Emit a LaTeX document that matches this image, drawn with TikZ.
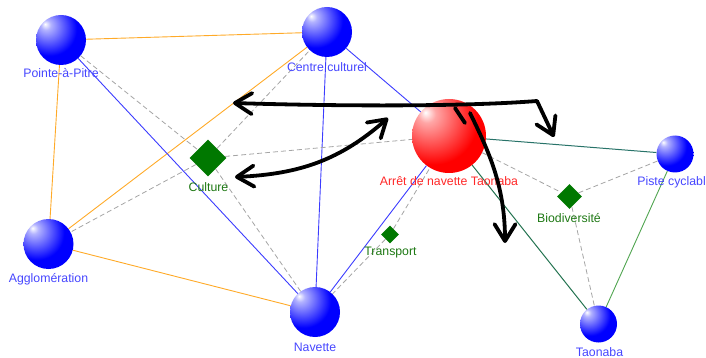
\documentclass[tikz,border=0pt]{standalone}
\usepackage{fontspec}
\setmainfont{Liberation Sans}
\usetikzlibrary{shapes.geometric,arrows.meta}

% sphere shadings: white highlight up-left, flat colour towards the rim
\pgfdeclareradialshading{bluesphere}{\pgfpoint{-16bp}{16bp}}{color(0bp)=(white); color(5bp)=(white!70!blue); color(27bp)=(blue); color(90bp)=(blue)}
\pgfdeclareradialshading{redsphere}{\pgfpoint{-16bp}{16bp}}{color(0bp)=(white); color(6bp)=(white!65!red); color(30bp)=(red); color(90bp)=(red)}

\definecolor{lblblue}{RGB}{70,70,255}
\definecolor{lblgreen}{RGB}{30,120,20}
\definecolor{lblred}{RGB}{255,40,40}
\definecolor{edgeorange}{RGB}{255,170,40}
\definecolor{edgeblue}{RGB}{60,60,255}
\definecolor{edgegray}{RGB}{165,165,165}
\definecolor{edgeteal}{RGB}{40,115,105}
\definecolor{edgedkgreen}{RGB}{35,115,80}
\definecolor{edgegreen}{RGB}{80,165,80}
\definecolor{diamondgreen}{RGB}{0,120,0}

\tikzset{
  bluebo/.style={circle, inner sep=0pt, minimum size=#1, shading=bluesphere},
  redbo/.style={circle, inner sep=0pt, minimum size=#1, shading=redsphere},
  topic/.style={diamond, inner sep=0pt, minimum size=#1, fill=diamondgreen},
  lbl/.style={font=\fontsize{12.3}{14}\selectfont, inner sep=0pt},
  placelbl/.style={lbl, text=lblblue},
  topiclbl/.style={lbl, text=lblgreen},
  orangeedge/.style={draw=edgeorange, line width=0.9pt},
  blueedge/.style={draw=edgeblue, line width=0.9pt},
  grayedge/.style={draw=edgegray, line width=0.8pt, dash pattern=on 5pt off 3pt},
  tealedge/.style={draw=edgeteal, line width=1pt},
  dkgreenedge/.style={draw=edgedkgreen, line width=1pt},
  greenedge/.style={draw=edgegreen, line width=0.9pt},
  hand/.style={draw=black, line width=3.8pt, line cap=round, line join=round},
  chev/.tip={Straight Barb[length=17pt, width=21pt, line cap=round, line join=round]},
}

\begin{document}
\begin{tikzpicture}[x=1pt, y=-1pt]
\useasboundingbox (0,0) rectangle (706,358);
\clip (0,0) rectangle (706,358);

% places
\node[bluebo=50pt] (pap) at (61,40) {};
\node[bluebo=50pt] (cc)  at (327,32) {};
\node[bluebo=50pt] (agg) at (48.5,244) {};
\node[bluebo=50pt] (nav) at (315,312) {};
\node[redbo=74pt]  (arr) at (449,136) {};
\node[bluebo=37pt] (pis) at (675,154) {};
\node[bluebo=37pt] (tao) at (598.5,324) {};

% topics
\node[topic=37pt] (cul) at (208,158) {};
\node[topic=18pt] (tra) at (390,234.5) {};
\node[topic=25pt] (bio) at (569.5,196.5) {};

% links
\path[orangeedge] (pap) -- (cc);
\path[orangeedge] (pap) -- (agg);
\path[orangeedge] (agg) -- (cc);
\path[orangeedge] (agg) -- (nav);
\path[blueedge] (pap) -- (nav);
\path[blueedge] (cc) -- (nav);
\path[blueedge] (cc) -- (arr);
\path[blueedge] (nav) -- (arr);
\path[grayedge] (pap) -- (cul);
\path[grayedge] (cul) -- (cc);
\path[grayedge] (cul) -- (agg);
\path[grayedge] (cul) -- (nav);
\path[grayedge] (cul) -- (arr);
\path[grayedge] (tra) -- (arr);
\path[grayedge] (tra) -- (nav);
\path[grayedge] (arr) -- (bio);
\path[grayedge] (bio) -- (pis);
\path[grayedge] (bio) -- (tao);
\path[tealedge] (arr) -- (pis);
\path[dkgreenedge] (arr) -- (tao);
\path[greenedge] (pis) -- (tao);

% labels
\node[placelbl] (papl) at (61,73) {Pointe-à-Pitre};
\node[placelbl] (ccl)  at (327,67.5) {Centre culturel};
\node[placelbl] (aggl) at (48.5,279.5) {Agglomération};
\node[placelbl] (navl) at (315,347) {Navette};
\node[lbl, text=lblred] (arrl) at (449,181.5) {Arrêt de navette Taonaba};
\node[placelbl] (pisl) at (675,182) {Piste cyclable};
\node[placelbl] (taol) at (599.5,352) {Taonaba};
\node[topiclbl] (cull) at (208.5,187) {Culture};
\node[topiclbl] (tral) at (390.5,253) {Transport};
\node[topiclbl] (biol) at (569,218) {Biodiversité};

% free-hand arrows
\coordinate (h1a) at (233,103);
\coordinate (h1b) at (537,101);
\coordinate (h1c) at (554,137);
\draw[hand, {chev}-{chev}] (h1a) .. controls (330,106) and (460,107) .. (h1b) -- (h1c);

\coordinate (h2a) at (235,177);
\coordinate (h2b) at (388,118);
\draw[hand, {chev}-{chev}] (h2a) .. controls (300,174) and (340,160) .. (h2b);

\coordinate (h3t) at (455,108);
\coordinate (h3u) at (465,123);
\draw[hand] (h3t) -- (h3u);
\coordinate (h3a) at (470,113);
\coordinate (h3b) at (505,243);
\draw[hand, -{chev}] (h3a) .. controls (488,150) and (505,185) .. (h3b);
\end{tikzpicture}
\end{document}
